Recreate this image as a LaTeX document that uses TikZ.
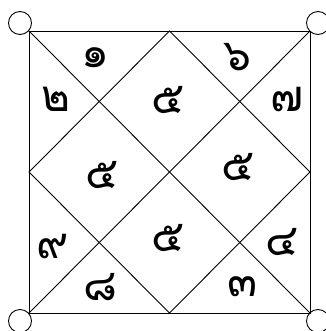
\documentclass[tikz,border=0pt]{standalone}
\usepackage{fontspec}
\newfontfamily\thaifont[Script=Thai]{Loma}
\usetikzlibrary{calc}
\begin{document}
\begin{tikzpicture}[x=1pt, y=-1pt, line width=0.9pt,
    num/.style={font=\thaifont\fontsize{44}{44}\selectfont, inner sep=0pt},
    knob/.style={draw, circle, minimum size=23pt, inner sep=0pt}]
  \useasboundingbox (0,0) rectangle (325,331);
  % square corners and edge midpoints
  \coordinate (tl) at (29,31);
  \coordinate (tr) at (310,31);
  \coordinate (bl) at (29,313);
  \coordinate (br) at (310,313);
  \coordinate (tm) at ($(tl)!0.5!(tr)$);
  \coordinate (rm) at ($(tr)!0.5!(br)$);
  \coordinate (bm) at ($(bl)!0.5!(br)$);
  \coordinate (lm) at ($(tl)!0.5!(bl)$);
  \draw (tl) -- (tr) -- (br) -- (bl) -- cycle;
  \draw (tl) -- (br);
  \draw (tr) -- (bl);
  \draw (tm) -- (rm) -- (bm) -- (lm) -- cycle;
  % corner rings
  \node[knob] (ktl) at (20,23) {};
  \node[knob] (ktr) at (318,23) {};
  \node[knob] (kbl) at (20,321) {};
  \node[knob] (kbr) at (318,321) {};
  % numbers
  \node[num] (n1) at (95,58) {๑};
  \node[num] (n2) at (56,99) {๒};
  \node[num] (n6) at (237,57) {๖};
  \node[num] (n7) at (287,100) {๗};
  \node[num] (n5a) at (168,100) {๕};
  \node[num] (n5b) at (102,175) {๕};
  \node[num] (n5c) at (238,167) {๕};
  \node[num] (n5d) at (168,238) {๕};
  \node[num] (n9) at (53,247) {๙};
  \node[num] (n4) at (282,242) {๔};
  \node[num] (n8) at (100,287) {๘};
  \node[num] (n3) at (243,287) {๓};
\end{tikzpicture}
\end{document}
